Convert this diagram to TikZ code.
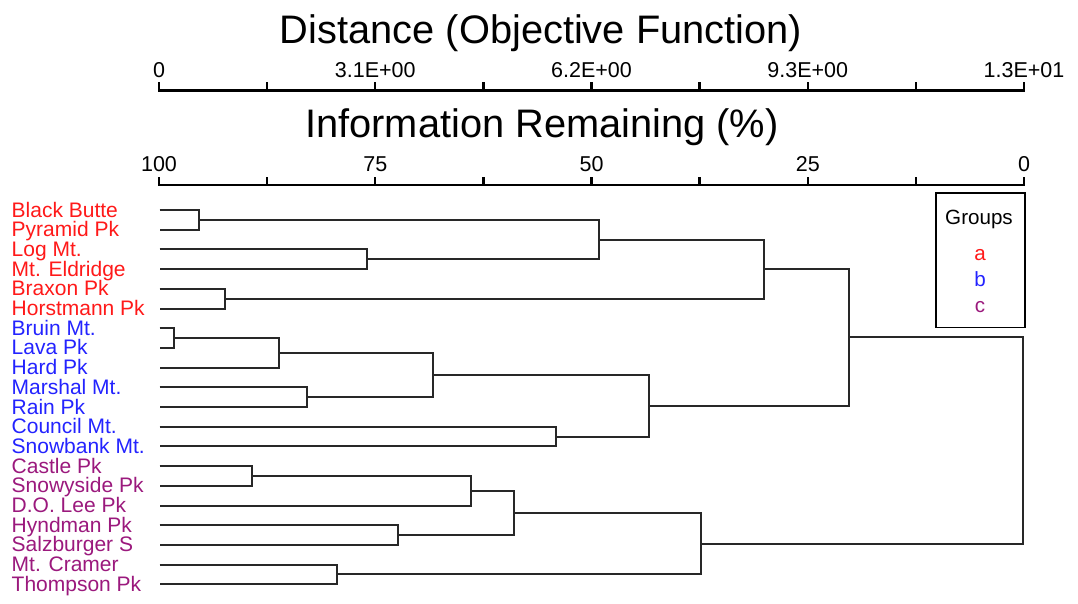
\documentclass[tikz,border=0pt]{standalone}
\usepackage{fontspec}
\setmainfont{Liberation Sans}
\usetikzlibrary{calc}
\definecolor{grpa}{RGB}{255,25,25}
\definecolor{grpb}{RGB}{35,35,255}
\definecolor{grpc}{RGB}{155,25,125}
\definecolor{tree}{RGB}{40,40,40}

% join two clusters at distance x: merge point sits midway between the children
\newcommand\joinpair[4]{%
  \path ($(#3)!0.5!(#4)$) coordinate (#1tmp);
  \coordinate (#1) at (#1tmp -| #2,0);
  \draw[branch] (#3) -- (#3 -| #1) -- (#4 -| #1) -- (#4);
}

\begin{document}
\begin{tikzpicture}[x=1pt,y=-1pt,
  leaf/.style={anchor=base west, inner sep=0pt, font=\fontsize{21}{24}\selectfont},
  ticklab/.style={anchor=base, inner sep=0pt, font=\fontsize{21.5}{26}\selectfont},
  axtitle/.style={anchor=base, inner sep=0pt, font=\fontsize{39.8}{44}\selectfont},
  legtext/.style={anchor=base, inner sep=0pt, font=\fontsize{20.6}{24}\selectfont},
  axisline/.style={line width=2.6pt, line cap=rect},
  tickmark/.style={line width=2.4pt},
  branch/.style={draw=tree, line width=2pt},
  legendbox/.style={draw, line width=1.8pt, minimum width=89pt, minimum height=134.5pt, inner sep=0pt},
]
\fill[white] (0,0) rectangle (1078,603);
\useasboundingbox (0,0) rectangle (1078,603);

% axis titles
\node[axtitle] (dtitle) at (541,43) {Distance (Objective Function)};
\node[axtitle] (ititle) at (542,137) {Information Remaining (\%)};

% distance axis
\coordinate (da) at (159,90.5);
\coordinate (db) at (1024,90.5);
\draw[axisline] (da) -- (db);
\foreach \k in {0,...,8}
  \draw[tickmark] ({159+108.125*\k},90.5) -- ++(0,-8.5);
\foreach \k/\lab in {0/0, 1/3.1E+00, 2/6.2E+00, 3/9.3E+00, 4/1.3E+01}
  \node[ticklab] (dl\k) at ({159+216.25*\k},77) {\lab};

% information remaining axis
\coordinate (ia) at (159,185);
\coordinate (ib) at (1024,185);
\draw[axisline] (ia) -- (ib);
\foreach \k in {0,...,8}
  \draw[tickmark] ({159+108.125*\k},185) -- ++(0,-8.5);
\foreach \k/\lab in {0/100, 1/75, 2/50, 3/25, 4/0}
  \node[ticklab] (il\k) at ({159+216.25*\k},171.5) {\lab};

% leaves
\foreach \i/\name/\col in {
  0/Black Butte/grpa, 1/Pyramid Pk/grpa, 2/Log Mt./grpa, 3/Mt. Eldridge/grpa,
  4/Braxon Pk/grpa, 5/Horstmann Pk/grpa,
  6/Bruin Mt./grpb, 7/Lava Pk/grpb, 8/Hard Pk/grpb, 9/Marshal Mt./grpb,
  10/Rain Pk/grpb, 11/Council Mt./grpb, 12/Snowbank Mt./grpb,
  13/Castle Pk/grpc, 14/Snowyside Pk/grpc, 15/D.O. Lee Pk/grpc,
  16/Hyndman Pk/grpc, 17/Salzburger S/grpc, 18/Mt. Cramer/grpc, 19/Thompson Pk/grpc}{
  \coordinate (l\i) at (159.5,{210+19.7*\i});
  \node[leaf, text=\col] (t\i) at (11.5,{217+19.7*\i}) {\name};
}

% group a
\joinpair{m01}{199}{l0}{l1}
\joinpair{m23}{367}{l2}{l3}
\joinpair{m45}{225}{l4}{l5}
\joinpair{m0123}{599}{m01}{m23}
\joinpair{ga}{764}{m0123}{m45}
% group b
\joinpair{m67}{174}{l6}{l7}
\joinpair{m678}{279}{m67}{l8}
\joinpair{m910}{307}{l9}{l10}
\joinpair{m6to10}{433}{m678}{m910}
\joinpair{m1112}{556}{l11}{l12}
\joinpair{gb}{649}{m6to10}{m1112}
\joinpair{gab}{849}{ga}{gb}
% group c
\joinpair{m1314}{251.5}{l13}{l14}
\joinpair{m1315}{471}{m1314}{l15}
\joinpair{m1617}{398}{l16}{l17}
\joinpair{m1317}{513.5}{m1315}{m1617}
\joinpair{m1819}{337}{l18}{l19}
\joinpair{gc}{701}{m1317}{m1819}
% root
\joinpair{root}{1023}{gab}{gc}

% legend
\node[legendbox, anchor=north west] (legend) at (935,192) {};
\node[legtext] (lgt) at (979,224.3) {Groups};
\node[legtext, text=grpa] (lga) at (980,260.7) {a};
\node[legtext, text=grpb] (lgb) at (980,286.7) {b};
\node[legtext, text=grpc] (lgc) at (980,312.7) {c};
\end{tikzpicture}
\end{document}
